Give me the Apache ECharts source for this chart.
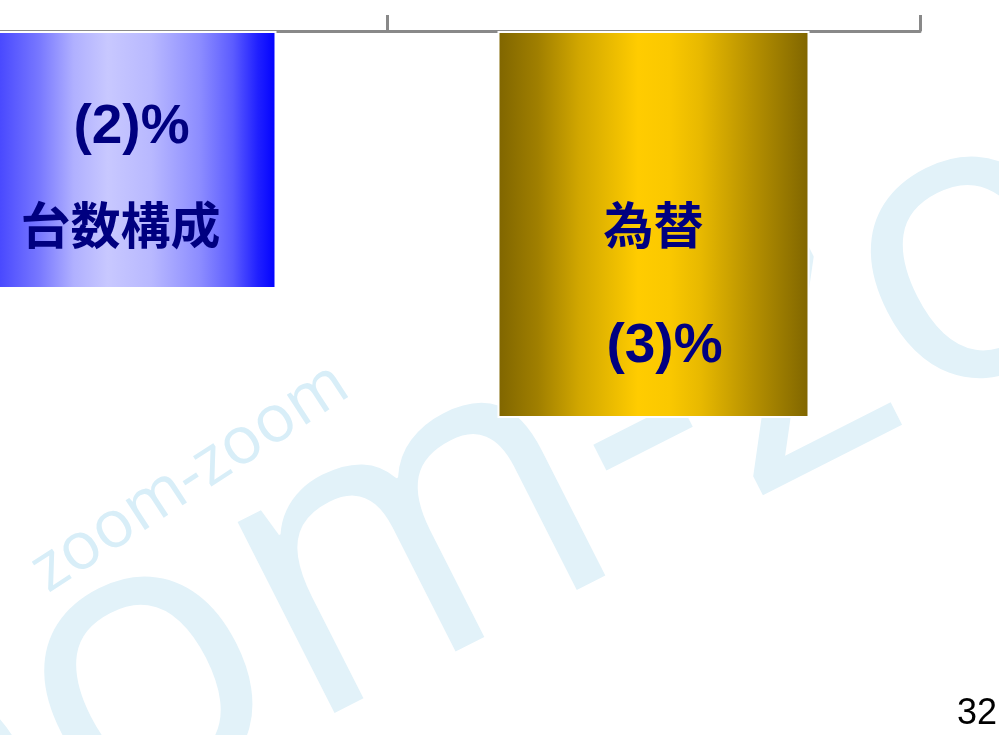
<!DOCTYPE html>
<html>
<head>
<meta charset="utf-8">
<script src="https://cdn.jsdelivr.net/npm/echarts@6/dist/echarts.min.js"></script>
<style>
  html, body { margin: 0; padding: 0; background: #fff; }
  #main { width: 999px; height: 735px; }
</style>
</head>
<body>
<div id="main"></div>
<script>
// データ
var categories = ['台数構成', '為替'];
var values = [-2, -3];
var valueLabels = ['(2)%', '(3)%'];
var pageNo = '32';

var chart = echarts.init(document.getElementById('main'));

var blueGrad = new echarts.graphic.LinearGradient(0, 0, 1, 0, [
    {offset: 0, color: '#1010ff'},
    {offset: 0.11, color: '#4848ff'},
    {offset: 0.24, color: '#7878ff'},
    {offset: 0.35, color: '#b0b0ff'},
    {offset: 0.46, color: '#c8c8ff'},
    {offset: 0.6, color: '#b8b8ff'},
    {offset: 0.755, color: '#8c8cff'},
    {offset: 0.86, color: '#5c5cff'},
    {offset: 0.94, color: '#2020ff'},
    {offset: 1, color: '#0000ff'}
]);
var goldGrad = new echarts.graphic.LinearGradient(0, 0, 1, 0, [
    {offset: 0, color: '#7f6500'},
    {offset: 0.13, color: '#a07f00'},
    {offset: 0.26, color: '#d0a600'},
    {offset: 0.45, color: '#ffcc00'},
    {offset: 0.55, color: '#fac800'},
    {offset: 0.65, color: '#e8b900'},
    {offset: 0.81, color: '#b89200'},
    {offset: 1, color: '#7f6500'}
]);

var richStyle = {
    v: {fontSize: 55, fontWeight: 'bold', color: '#000080', fontFamily: '"Liberation Sans", Arial, sans-serif', padding: [0, 0, 0, 22]},
    n: {fontSize: 50, fontWeight: 'bold', color: '#000080', fontFamily: '"Noto Sans CJK JP", sans-serif'}
};

// 台数構成: 数値が上、名前が下 / 為替: 名前が上、数値が下
var barData = [
    {
        value: values[0],
        itemStyle: {color: blueGrad},
        label: {
            distance: 48,
            formatter: '{v|' + valueLabels[0] + '}\n{n|' + categories[0] + '}',
            rich: {
                v: Object.assign({}, richStyle.v, {lineHeight: 97}),
                n: Object.assign({}, richStyle.n, {lineHeight: 97})
            }
        }
    },
    {
        value: values[1],
        itemStyle: {color: goldGrad},
        label: {
            distance: 133,
            formatter: '{n|' + categories[1] + '}\n{v|' + valueLabels[1] + '}',
            rich: {
                v: Object.assign({}, richStyle.v, {lineHeight: 122}),
                n: Object.assign({}, richStyle.n, {lineHeight: 122})
            }
        }
    }
];

var wmColor = '#e2f2f9';

option = {
    backgroundColor: '#ffffff',
    animation: false,
    graphic: [
        {
            type: 'text', x: 640, y: 430, rotation: 0.47, z: 0,
            style: {
                text: 'zoom-zoom', fontSize: 400, fontFamily: '"Open Sans", sans-serif', fontWeight: 'normal',
                fill: wmColor, align: 'center', verticalAlign: 'middle'
            }
        },
        {
            type: 'text', x: 190, y: 478, rotation: 0.58, z: 1,
            style: {
                text: 'zoom-zoom', fontSize: 66, fontFamily: '"Open Sans", sans-serif', fontWeight: 'normal',
                fill: '#d8eef8', align: 'center', verticalAlign: 'middle'
            }
        },
        {
            type: 'text', x: 997, y: 714, z: 5,
            style: {
                text: pageNo, fontSize: 36, fontFamily: '"Liberation Sans", Arial, sans-serif',
                fill: '#000', align: 'right', verticalAlign: 'middle'
            }
        }
    ],
    grid: {
        left: -146,
        right: 79,
        top: 31,
        height: 645,
        outerBoundsMode: 'none',
        containLabel: false
    },
    xAxis: {
        type: 'category',
        position: 'top',
        data: categories,
        axisLine: {onZero: false, lineStyle: {color: '#898989', width: 3}},
        axisTick: {show: true, length: 16, lineStyle: {color: '#898989', width: 3}},
        axisLabel: {show: false},
        splitLine: {show: false}
    },
    yAxis: {
        type: 'value',
        min: -5,
        max: 0,
        show: false
    },
    series: [{
        type: 'bar',
        barWidth: 312,
        z: 3,
        data: barData,
        itemStyle: {borderColor: '#ffffff', borderWidth: 2},
        label: {
            show: true,
            position: 'insideTop'
        }
    }]
};
chart.setOption(option);
</script>
</body>
</html>
